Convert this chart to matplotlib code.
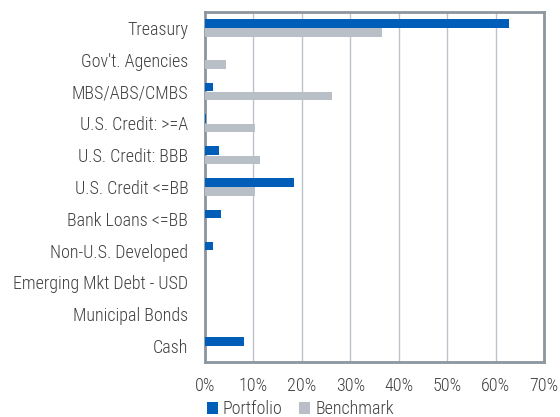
import matplotlib

matplotlib.use("Agg")
import matplotlib.pyplot as plt
import numpy as np

# Sector allocation, % of market value
sectors = [
    "Treasury",
    "Gov't. Agencies",
    "MBS/ABS/CMBS",
    "U.S. Credit: >=A",
    "U.S. Credit: BBB",
    "U.S. Credit <=BB",
    "Bank Loans <=BB",
    "Non-U.S. Developed",
    "Emerging Mkt Debt - USD",
    "Municipal Bonds",
    "Cash",
]
portfolio = [62.8, 0.0, 1.6, 0.25, 2.9, 18.3, 3.3, 1.6, 0.1, 0.0, 8.1]
benchmark = [36.6, 4.4, 26.2, 10.4, 11.3, 10.3, 0.0, 0.0, 0.0, 0.0, 0.0]
x_ticks = [0, 10, 20, 30, 40, 50, 60, 70]

PORT_COLOR = "#005EB8"
BENCH_COLOR = "#B8BFC6"
FRAME_COLOR = "#8C969E"
GRID_COLOR = "#BCC3CA"
TEXT_COLOR = "#404040"
FS = 13

plt.rcParams["font.family"] = ["Roboto Condensed", "Archivo Narrow", "DejaVu Sans"]
plt.rcParams["font.weight"] = "light"

fig = plt.figure(figsize=(5.6, 4.17), dpi=100)
ax = fig.add_axes([205 / 560, 1 - 362 / 417, 339 / 560, 350 / 417])

y = np.arange(len(sectors))
h = 0.27
ax.barh(y - h / 2 - 0.01, portfolio, height=h, color=PORT_COLOR, label="Portfolio", zorder=3)
ax.barh(y + h / 2 + 0.01, benchmark, height=h, color=BENCH_COLOR, label="Benchmark", zorder=3)

ax.set_ylim(len(sectors) - 0.5, -0.5)
ax.set_xlim(0, 70)
ax.set_yticks(y)
ax.set_yticklabels(sectors, fontsize=FS, color=TEXT_COLOR)
ax.set_xticks(x_ticks)
ax.set_xticklabels([f"{t}%" for t in x_ticks], fontsize=FS, color=TEXT_COLOR)
ax.tick_params(axis="y", length=0, pad=12)
ax.tick_params(axis="x", length=0, pad=11)
ax.grid(axis="x", color=GRID_COLOR, lw=1.0, zorder=0)
for s in ax.spines.values():
    s.set_color(FRAME_COLOR)
    s.set_linewidth(2.0)

ax.legend(
    loc="center left",
    bbox_to_anchor=(0.005, -0.135),
    ncol=2,
    frameon=False,
    fontsize=FS,
    handlelength=0.6,
    handleheight=0.6,
    handletextpad=0.3,
    columnspacing=0.9,
    borderpad=0,
    borderaxespad=0,
    labelcolor=TEXT_COLOR,
)

fig.savefig("out.png", dpi=100)
